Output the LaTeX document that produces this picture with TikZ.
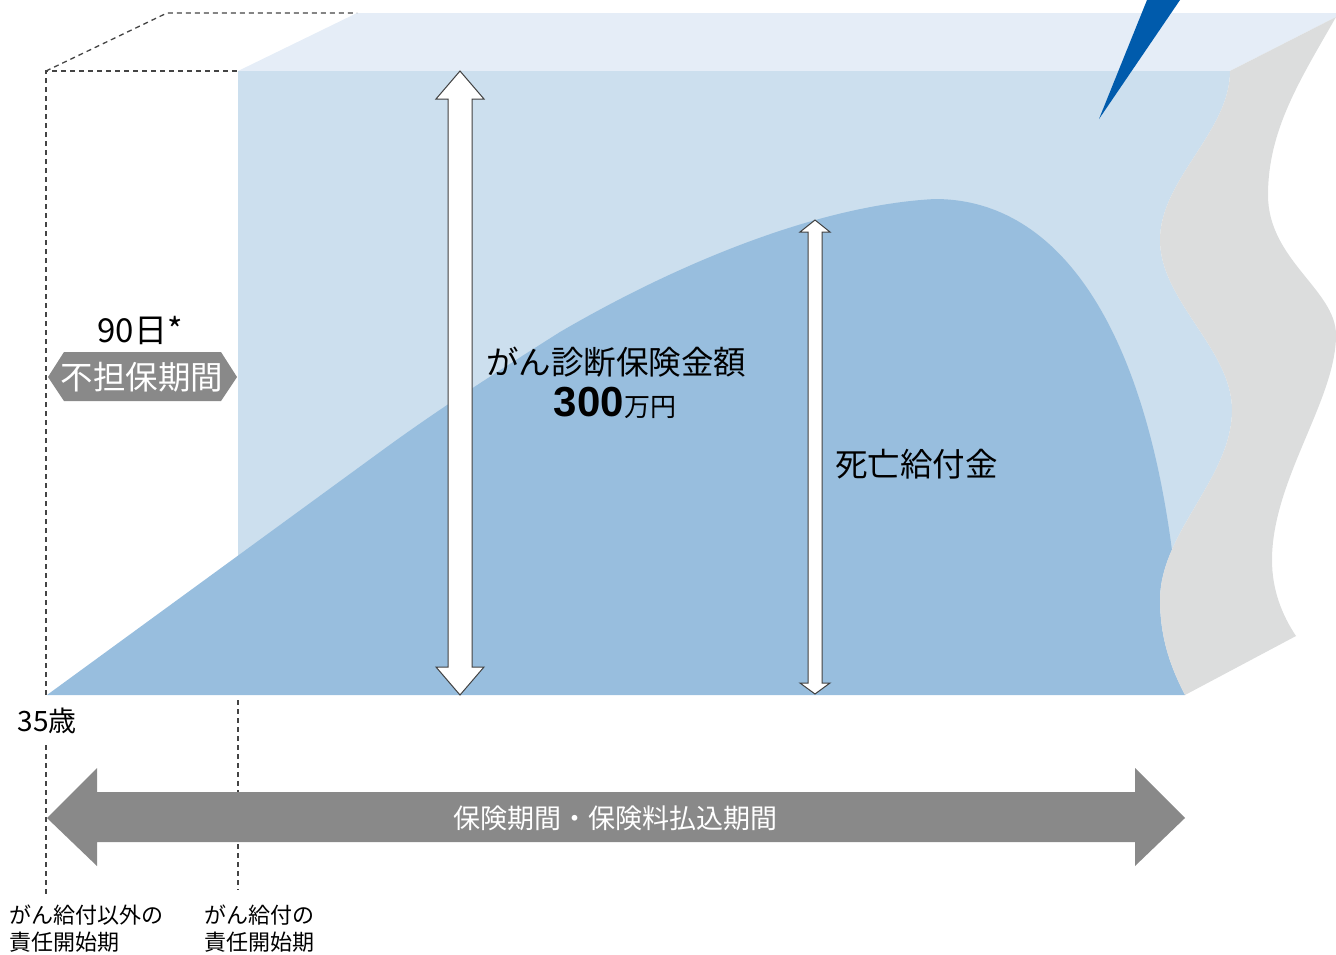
\documentclass[tikz,border=0pt]{standalone}
\usepackage{fontspec}
\setmainfont{Noto Sans CJK JP}
\newfontfamily\numfont{Liberation Sans}
\definecolor{topface}{HTML}{E5EDF7}
\definecolor{frontlight}{HTML}{CCDFEE}
\definecolor{frontdark}{HTML}{98BEDE}
\definecolor{wavegray}{HTML}{DCDDDD}
\definecolor{arrowgray}{HTML}{898989}
\definecolor{spikeblue}{HTML}{005BAC}
\definecolor{dashgray}{HTML}{444444}
\begin{document}
\begin{tikzpicture}[x=1pt,y=-1pt,
  dashline/.style={draw=dashgray,line width=1.3pt,dash pattern=on 5pt off 4pt},
  whitearrow/.style={fill=white,draw=black!75,line width=1pt,line join=miter},
  lbl/.style={inner sep=0pt,text=black},
  small/.style={lbl,font=\fontsize{22}{27}\selectfont,align=left,anchor=west}]
\useasboundingbox (0,0) rectangle (1336,954);
% top face
\fill[topface] (238,71) -- (357,13) -- (1336,13) -- (1336,17) -- (1230,71) -- cycle;
% light front face, and the dark region clipped to it
\begin{scope}
\clip (238,71) -- (1230,71) .. controls (1230,132) and (1160,179) .. (1160,240)
  .. controls (1160,301) and (1232,349) .. (1232,410)
  .. controls (1232,478) and (1160,532) .. (1160,600)
  .. controls (1160,640) and (1172,670) .. (1185,695) -- (40,695) -- (40,71) -- cycle;
\fill[frontlight] (238,71) rectangle (1240,695);
\fill[frontdark] (47,695) -- (380,452) .. controls (440,408) and (500,370) .. (560,332)
  .. controls (680,262) and (820,205) .. (935,199)
  .. controls (1060,199) and (1150,330) .. (1176,585)
  -- (1240,585) -- (1240,695) -- cycle;
\end{scope}
% gray wavy edge
\fill[wavegray] (1230,71) -- (1336,17)
  .. controls (1300,80) and (1268,130) .. (1268,195)
  .. controls (1268,260) and (1336,290) .. (1336,335)
  .. controls (1336,400) and (1272,480) .. (1272,560)
  .. controls (1272,590) and (1282,615) .. (1296,636)
  -- (1185,695)
  .. controls (1172,670) and (1160,640) .. (1160,600)
  .. controls (1160,532) and (1232,478) .. (1232,410)
  .. controls (1232,349) and (1160,301) .. (1160,240)
  .. controls (1160,179) and (1230,132) .. (1230,71) -- cycle;
% blue spike
\fill[spikeblue] (1147,0) -- (1180,0) -- (1099,119) -- cycle;
% dashed outline of the unprotected box
\coordinate (c1) at (46,695);
\coordinate (c2) at (46,71);
\coordinate (c3) at (167,13);
\coordinate (c4) at (357,13);
\coordinate (c5) at (238,71);
\draw[dashline] (c1) -- (c2) -- (c5);
\draw[dashline] (c2) -- (c3) -- (c4);
\coordinate (d1) at (46,745);
\coordinate (d2) at (46,897);
\coordinate (e1) at (238,700);
\coordinate (e2) at (238,890);
\draw[dashline] (d1) -- (d2);
\draw[dashline] (e1) -- (e2);
% big white double arrow
\draw[whitearrow] (460,71) -- (484,99) -- (472,99) -- (472,667) -- (484,667) -- (460,695)
  -- (436,667) -- (448,667) -- (448,99) -- (436,99) -- cycle;
% small white double arrow
\draw[whitearrow] (815,220) -- (830,232) -- (822,232) -- (822,683) -- (830,683) -- (815,694)
  -- (800,683) -- (808,683) -- (808,232) -- (800,232) -- cycle;
% gray period arrow
\fill[arrowgray] (47,818) -- (97,768) -- (97,792) -- (1135,792) -- (1135,768) -- (1185,818)
  -- (1135,866) -- (1135,842) -- (97,842) -- (97,866) -- cycle;
% hexagon label
\fill[arrowgray] (48,377) -- (64,352) -- (221,352) -- (237,377) -- (221,401) -- (64,401) -- cycle;
% texts
\node[lbl,text=white,font=\fontsize{32.5}{36}\selectfont] (futanpo) at (142,377) {不担保期間};
\node[lbl,font=\fontsize{33}{38}\selectfont] (days) at (140,330) {90日*};
\node[lbl,font=\fontsize{32.5}{36}\selectfont] (gan) at (616,362) {がん診断保険金額};
\node[lbl,font=\fontsize{26}{30}\selectfont,anchor=base] (amt) at (615,416) {{\numfont\bfseries\fontsize{42}{46}\selectfont 300}万円};
\node[lbl,font=\fontsize{32.5}{36}\selectfont,anchor=west] (death) at (835,464) {死亡給付金};
\node[lbl,text=white,font=\fontsize{27}{30}\selectfont] (period) at (615,818) {保険期間・保険料払込期間};
\node[lbl,font=\fontsize{28}{32}\selectfont] (age) at (47,721) {35歳};
\node[small] (start1) at (9,929) {がん給付以外の\\責任開始期};
\node[small] (start2) at (204,929) {がん給付の\\責任開始期};
\end{tikzpicture}
\end{document}
